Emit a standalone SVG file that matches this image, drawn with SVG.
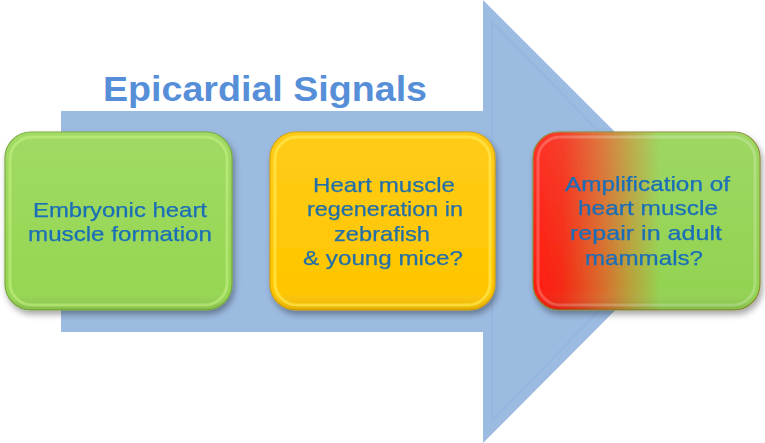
<svg xmlns="http://www.w3.org/2000/svg" width="765" height="443" viewBox="0 0 765 443">
<style>
.lbl{font-family:"Liberation Sans",Arial,sans-serif;font-size:21px;fill:#1A6EB8;stroke:#1A6EB8;stroke-width:0.25}
.title{font-family:"Liberation Sans",Arial,sans-serif;font-size:35.5px;font-weight:bold;fill:#568FD8}
.rim{fill:none;stroke-width:3}
</style>
<defs>
<filter id="sh" x="-10%" y="-10%" width="125%" height="130%">
<feDropShadow dx="2" dy="4" stdDeviation="3" flood-color="#000" flood-opacity="0.35"/>
</filter>
<linearGradient id="rg" x1="0" y1="0" x2="1" y2="0">
<stop offset="0" stop-color="#FF1A10"/>
<stop offset="0.13" stop-color="#F52A14"/>
<stop offset="0.3" stop-color="#DA6A2A"/>
<stop offset="0.43" stop-color="#B8A23A"/>
<stop offset="0.56" stop-color="#93D352"/>
<stop offset="1" stop-color="#93D352"/>
</linearGradient>
<linearGradient id="shade" x1="0" y1="0" x2="0" y2="1">
<stop offset="0" stop-color="#fff" stop-opacity="0.1"/>
<stop offset="0.88" stop-color="#fff" stop-opacity="0"/>
<stop offset="1" stop-color="#000" stop-opacity="0.12"/>
</linearGradient>
</defs>
<g id="connectors">
<polygon id="arrow" points="61,111 483,111 483,0 704,221 483,443 483,332 61,332" fill="#9CBBE1"/>
<polyline points="492,22 492,421 686,221 492,22" fill="none" stroke="#8FB0DA" stroke-width="2" opacity="0.35"/>
</g>
<g id="title">
<text class="title" x="103" y="100.5" textLength="324" lengthAdjust="spacingAndGlyphs">Epicardial Signals</text>
</g>
<g id="node1" filter="url(#sh)">
<rect x="5" y="132" width="227" height="178" rx="26" fill="#96D653" stroke="#78A83A" stroke-width="1.2"/>
<rect x="5" y="132" width="227" height="178" rx="26" fill="url(#shade)"/>
<rect class="rim" x="10" y="137" width="217" height="168" rx="22" stroke="#C4F080" opacity="0.6"/>
<text class="lbl" x="33" y="216.5" textLength="174" lengthAdjust="spacingAndGlyphs">Embryonic heart</text>
<text class="lbl" x="28" y="241" textLength="184" lengthAdjust="spacingAndGlyphs">muscle formation</text>
</g>
<g id="node2" filter="url(#sh)">
<rect x="270" y="132" width="225" height="178" rx="26" fill="#FFC600" stroke="#D9A000" stroke-width="1.2"/>
<rect x="270" y="132" width="225" height="178" rx="26" fill="url(#shade)"/>
<rect class="rim" x="275" y="137" width="215" height="168" rx="22" stroke="#FFE850" opacity="0.7"/>
<text class="lbl" x="313" y="191.5" textLength="142" lengthAdjust="spacingAndGlyphs" style="fill:#246FA8;stroke:#246FA8">Heart muscle</text>
<text class="lbl" x="307" y="216" textLength="156" lengthAdjust="spacingAndGlyphs" style="fill:#246FA8;stroke:#246FA8">regeneration in</text>
<text class="lbl" x="334" y="240.5" textLength="96" lengthAdjust="spacingAndGlyphs" style="fill:#246FA8;stroke:#246FA8">zebrafish</text>
<text class="lbl" x="303" y="265" textLength="160" lengthAdjust="spacingAndGlyphs" style="fill:#246FA8;stroke:#246FA8">&amp; young mice?</text>
</g>
<g id="node3" filter="url(#sh)">
<rect x="533" y="132" width="227" height="178" rx="26" fill="url(#rg)" stroke="#8A8A30" stroke-width="1.2"/>
<rect x="533" y="132" width="227" height="178" rx="26" fill="url(#shade)"/>
<rect class="rim" x="538" y="137" width="217" height="168" rx="22" stroke="#fff" opacity="0.22"/>
<text class="lbl" x="565" y="190.5" textLength="165" lengthAdjust="spacingAndGlyphs">Amplification of</text>
<text class="lbl" x="578" y="215" textLength="140" lengthAdjust="spacingAndGlyphs">heart muscle</text>
<text class="lbl" x="570" y="240" textLength="152" lengthAdjust="spacingAndGlyphs">repair in adult</text>
<text class="lbl" x="585" y="264.5" textLength="118" lengthAdjust="spacingAndGlyphs">mammals?</text>
</g>
</svg>
